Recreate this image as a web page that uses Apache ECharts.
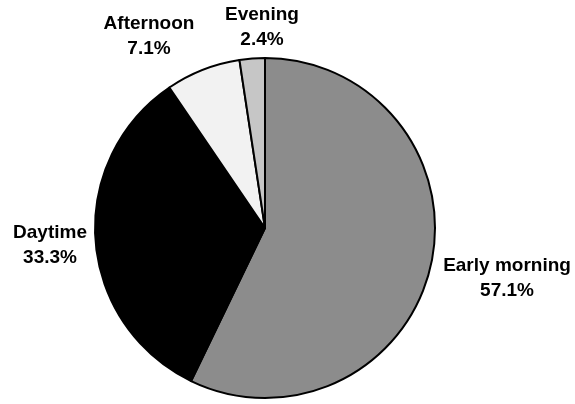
<!DOCTYPE html>
<html><head><meta charset="utf-8">
<script src="https://cdn.jsdelivr.net/npm/echarts@6/dist/echarts.min.js"></script>
<style>html,body{margin:0;padding:0;background:#fff}#c{width:575px;height:404px}</style>
</head><body><div id="c"></div>
<script>
const categories = ['Early morning', 'Daytime', 'Afternoon', 'Evening'];
const shares = [57.1, 33.3, 7.1, 2.4];
const fills = ['#8c8c8c', '#000000', '#f2f2f2', '#c6c6c6'];
const labelPos = [[507, 278], [50, 245], [149, 36], [262, 27]];

const chart = echarts.init(document.getElementById('c'));
chart.setOption({
  animation: false,
  series: [{
    type: 'pie',
    center: [265, 228],
    radius: 170,
    startAngle: 90,
    clockwise: true,
    data: categories.map((n, i) => ({ name: n, value: shares[i], itemStyle: { color: fills[i] } })),
    itemStyle: { borderColor: '#000', borderWidth: 2 },
    label: {
      show: true,
      position: 'outside',
      formatter: p => p.name + '\n' + p.value.toFixed(1) + '%',
      fontFamily: 'Liberation Sans, Arial, sans-serif',
      fontWeight: 'bold',
      fontSize: 19,
      lineHeight: 25,
      color: '#000',
      align: 'center',
      overflow: 'none',
      width: 200
    },
    labelLine: { show: false },
    labelLayout: function (params) {
      const p = labelPos[params.dataIndex];
      return { x: p[0], y: p[1], align: 'center', verticalAlign: 'middle', hideOverlap: false };
    }
  }]
});
</script></body></html>
